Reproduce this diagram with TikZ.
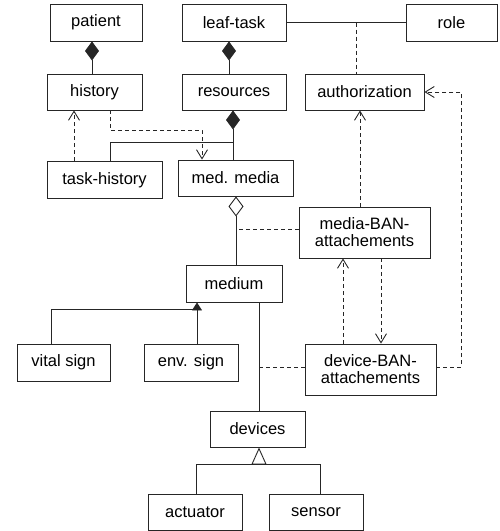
\documentclass[tikz,border=0pt]{standalone}
\usepackage{fontspec}
\setmainfont{Liberation Sans}
\usetikzlibrary{arrows.meta,calc}

\begin{document}
\begin{tikzpicture}[x=1pt, y=-1pt, line width=0.9pt, draw=black!85,
  cls/.style={draw=black!85, fill=white, rectangle, inner sep=0pt, align=center,
    text=black, font=\fontsize{16.5}{17}\selectfont},
  dep/.style={dashed, dash pattern=on 4pt off 3pt, -{Straight Barb[length=9pt,width=11pt]}},
  link/.style={dashed, dash pattern=on 4pt off 3pt},
  comp/.style={{Diamond[length=19pt,width=14pt]}-},
  aggr/.style={{Diamond[open,length=20pt,width=15pt]}-},
  genf/.style={{Triangle[length=8pt,width=10pt]}-},
  geno/.style={{Triangle[open,length=17pt,width=15pt]}-}]

\useasboundingbox (0,0) rectangle (499,531);

% classes
\node[cls, minimum width=92pt, minimum height=37pt] (patient) at (96,22.5) {patient};
\node[cls, minimum width=104pt, minimum height=37pt] (leaftask) at (234,22.5) {leaf-task};
\node[cls, minimum width=91pt, minimum height=37pt] (role) at (451.5,22.5) {role};
\node[cls, minimum width=95pt, minimum height=36pt] (history) at (94.5,92) {history};
\node[cls, minimum width=104pt, minimum height=36pt] (resources) at (234,92) {resources};
\node[cls, minimum width=119pt, minimum height=36pt] (authorization) at (364.5,92) {authorization};
\node[cls, minimum width=115pt, minimum height=37pt] (taskhistory) at (104.5,180) {task-history};
\node[cls, minimum width=115pt, minimum height=36pt] (medmedia) at (235.5,178) {med. media};
\node[cls, minimum width=131pt, minimum height=51pt] (mediaban) at (364.5,232.5) {media-BAN-\\attachements};
\node[cls, minimum width=96pt, minimum height=37pt] (medium) at (234,283.5) {medium};
\node[cls, minimum width=93pt, minimum height=37pt] (vitalsign) at (63.5,362.5) {vital sign};
\node[cls, minimum width=94pt, minimum height=37pt] (envsign) at (191,362.5) {env. sign};
\node[cls, minimum width=131pt, minimum height=51pt] (deviceban) at (370.5,369.5) {device-BAN-\\attachements};
\node[cls, minimum width=95pt, minimum height=36pt] (devices) at (257.5,429) {devices};
\node[cls, minimum width=94pt, minimum height=36pt] (actuator) at (195,512) {actuator};
\node[cls, minimum width=94pt, minimum height=36pt] (sensor) at (316,512) {sensor};

% compositions
\draw[comp] ([xshift=-4pt]patient.south) -- ([xshift=-2.5pt]history.north);
\draw[comp] ([xshift=-5pt]leaftask.south) -- ([xshift=-5pt]resources.north);
\draw[comp] ([xshift=-1pt]resources.south) -- ([xshift=-1pt]resources.south |- medmedia.north);
\draw ([xshift=-1pt,yshift=-32pt]resources.south) -| ([xshift=5.5pt]taskhistory.north);

% leaf-task / role association with its class
\draw (leaftask.east) -- (role.west);
\coordinate (assoc) at ($(leaftask.east)!0.59!(role.west)$);
\draw[link] (assoc) -- (assoc |- authorization.north);

% dependencies around history
\draw[dep] ([xshift=15.5pt]history.south) -- ++(0,20) -| ([xshift=-33.5pt]medmedia.north);
\draw[dep] ([xshift=-30.5pt]taskhistory.north) -- ([xshift=-30.5pt]taskhistory.north |- history.south);

% aggregation of media
\draw[aggr] ([xshift=0.5pt]medmedia.south) -- ([xshift=0.5pt]medmedia.south |- medium.north);
\draw[link] ([yshift=3.5pt]mediaban.west) -- ([yshift=3.5pt,xshift=0.5pt]mediaban.west -| medmedia.south);

% BAN attachments
\draw[dep] ([xshift=-4.5pt]mediaban.north) -- ([xshift=-4.5pt]mediaban.north |- authorization.south);
\draw[dep] ([xshift=16.5pt]mediaban.south) -- ([xshift=16.5pt]mediaban.south |- deviceban.north);
\draw[dep] ([xshift=-27.5pt]deviceban.north) -- ([xshift=-27.5pt]deviceban.north |- mediaban.south);
\draw[dep] ([yshift=2.5pt]deviceban.east) -- ++(25,0) |- (authorization.east);

% medium and devices
\draw ([xshift=1.5pt]devices.north |- medium.south) -- ([xshift=1.5pt]devices.north);
\draw[link] ([yshift=2.5pt]deviceban.west) -- ([yshift=2.5pt,xshift=1.5pt]deviceban.west -| devices.north);

% specialisations of medium
\draw[genf] ([xshift=-37pt]medium.south) -- ([xshift=-37pt]medium.south |- envsign.north);
\draw ([xshift=-12.5pt]vitalsign.north) |- ([xshift=-37pt,yshift=-7pt]medium.south);

% specialisations of devices
\draw[geno] ([xshift=1.5pt]devices.south) -- ++(0,18);
\draw ([xshift=1pt]actuator.north) -- ++(0,-29) -| ([xshift=4pt]sensor.north);

\end{tikzpicture}
\end{document}
